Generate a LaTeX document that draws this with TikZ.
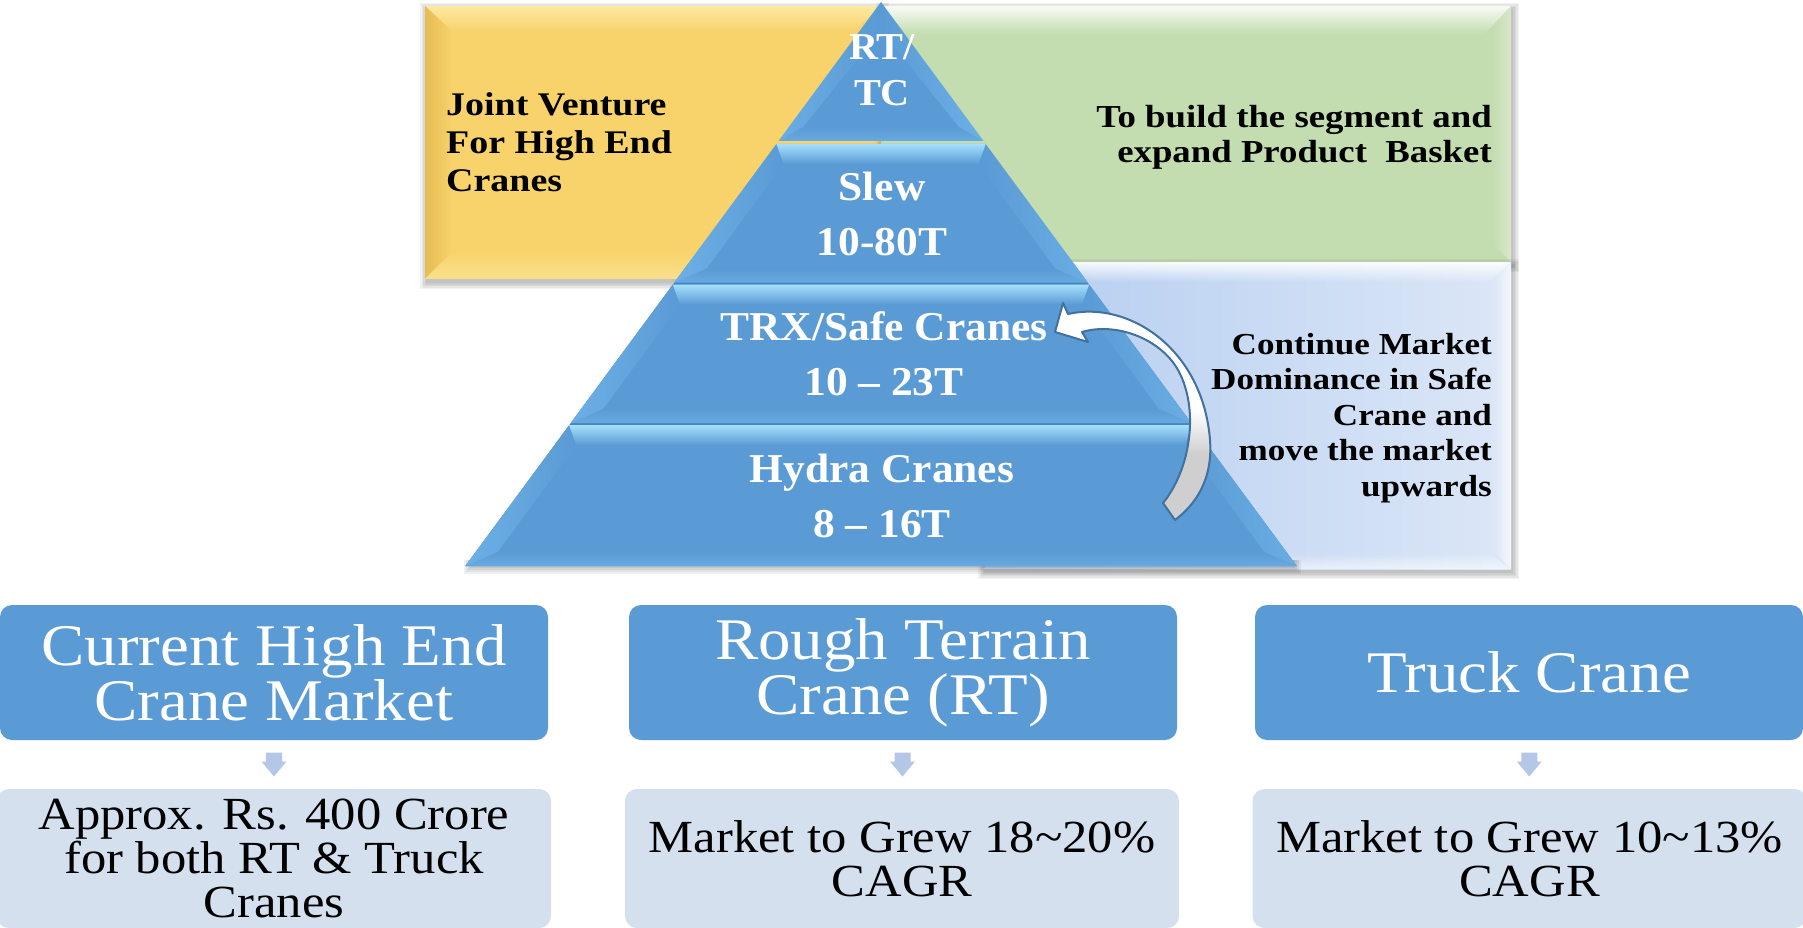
\documentclass[tikz,border=0pt]{standalone}
\usepackage{fontspec}
\setmainfont{Liberation Serif}
\newfontfamily\tierfont[FakeStretch=1.06]{Liberation Serif}
\newfontfamily\notefont[FakeStretch=1.15]{Liberation Serif}
\newfontfamily\boxfont[FakeStretch=1.1]{Liberation Serif}
\usetikzlibrary{calc,fadings}

\definecolor{accent}{HTML}{5B9BD5}
\definecolor{accentdeep}{HTML}{4A84BC}
\definecolor{tierlight}{HTML}{A6E0FD}
\definecolor{tieredge}{HTML}{74B9EE}
\definecolor{gold}{HTML}{F8D36B}
\definecolor{goldlight}{HTML}{FDE9A4}
\definecolor{golddark}{HTML}{E2B84F}
\definecolor{sage}{HTML}{C3DDB0}
\definecolor{skyleft}{HTML}{B3CCF0}
\definecolor{skyright}{HTML}{DCE7F7}
\definecolor{paleblue}{HTML}{D5E0EF}
\definecolor{arrowblue}{HTML}{B4C7E7}
\definecolor{curvegray}{HTML}{CFCFCF}
\definecolor{curveline}{HTML}{41719C}

\tikzfading[name=fadetop, top color=transparent!0, bottom color=transparent!100]
\tikzfading[name=fadebottom, top color=transparent!100, bottom color=transparent!0]
\tikzfading[name=fadeleft, left color=transparent!0, right color=transparent!100]
\tikzfading[name=faderight, left color=transparent!100, right color=transparent!0]

\pgfdeclareverticalshading{curveshade}{100bp}{color(0bp)=(curvegray); color(40bp)=(curvegray); color(50bp)=(white); color(100bp)=(white)}

% soft shadow under a rectangle: x1 y1 x2 y2
\newcommand{\softshadow}[4]{%
  \foreach \s in {0,1.5,3,4.5,6}{%
    \fill[black, opacity=0.05] (#1+1-\s,#2+3-\s) rectangle (#3+2+\s,#4+4+\s);}}

% one bevelled slab of the pyramid: top y, bottom y
\newcommand{\tierslab}[2]{%
  \pgfmathsetmacro{\xa}{881-0.737*(#1-2)}%
  \pgfmathsetmacro{\xb}{881+0.737*(#1-2)}%
  \pgfmathsetmacro{\xc}{881+0.737*(#2-2)}%
  \pgfmathsetmacro{\xd}{881-0.737*(#2-2)}%
  \pgfmathsetmacro{\ya}{#1+20}%
  \pgfmathsetmacro{\yd}{#2-14}%
  \pgfmathsetmacro{\xai}{881-0.737*(\ya-2)+22}%
  \pgfmathsetmacro{\xbi}{881+0.737*(\ya-2)-22}%
  \pgfmathsetmacro{\xci}{881+0.737*(\yd-2)-22}%
  \pgfmathsetmacro{\xdi}{881-0.737*(\yd-2)+22}%
  \fill[accent] (\xa,#1) -- (\xb,#1) -- (\xc,#2) -- (\xd,#2) -- cycle;
  \fill[tierlight, path fading=fadetop] (\xa,#1) -- (\xb,#1) -- (\xbi,\ya) -- (\xai,\ya) -- cycle;
  \fill[tieredge, opacity=0.7, path fading=fadeleft] (\xa,#1) -- (\xai,\ya) -- (\xdi,\yd) -- (\xd,#2) -- cycle;
  \fill[tieredge, opacity=0.6, path fading=faderight] (\xb,#1) -- (\xc,#2) -- (\xci,\yd) -- (\xbi,\ya) -- cycle;
  \fill[tieredge, opacity=0.5, path fading=fadebottom] (\xdi,\yd) -- (\xci,\yd) -- (\xc,#2) -- (\xd,#2) -- cycle;
}

% small block arrow between two stacked boxes
\newcommand{\stepdown}[2]{%
  \fill[stepfill] ($(#1.south)!0.5!(#2.north)+(-8,-12)$) -- ++(16,0) -- ++(0,9)
    -- ++(4.5,0) -- ++(-12.5,15) -- ++(-12.5,-15) -- ++(4.5,0) -- cycle;}

\begin{document}
\begin{tikzpicture}[x=1pt,y=-1pt,
  stepfill/.style={fill=arrowblue},
  tiertext/.style={text=white, align=center, inner sep=0pt,
    font=\tierfont\bfseries\fontsize{41}{55}\selectfont},
  notetext/.style={text=black, inner sep=0pt},
  headbox/.style={rounded corners=12pt, fill=accent, text=white, align=center,
    minimum width=548pt, minimum height=135pt, inner sep=0pt,
    font=\boxfont\fontsize{59}{55}\selectfont},
  factbox/.style={rounded corners=12pt, fill=paleblue, text=black, align=center,
    minimum width=554pt, minimum height=139pt, inner sep=0pt,
    font=\boxfont\fontsize{46}{44}\selectfont},
]
\useasboundingbox (0,0) rectangle (1803,928);
\clip (0,0) rectangle (1803,928);
\fill[white] (0,0) rectangle (1803,928);

% ---- yellow panel
\softshadow{425}{6}{881}{279}
\fill[gold] (425,6) rectangle (881,279);
\fill[goldlight, path fading=fadetop] (425,6) -- (881,6) -- (853,32) -- (453,32) -- cycle;
\fill[golddark, opacity=0.8, path fading=fadeleft] (425,6) -- (453,32) -- (453,251) -- (425,279) -- cycle;
\fill[goldlight, opacity=0.6, path fading=fadebottom] (425,279) -- (453,251) -- (853,251) -- (881,279) -- cycle;

% ---- green panel
\softshadow{881}{6}{1511}{262}
\fill[sage] (881,6) rectangle (1511,262);
\fill[white, opacity=0.9, path fading=fadetop] (881,6) -- (1511,6) -- (1485,34) -- (907,34) -- cycle;
\fill[white, opacity=0.35, path fading=faderight] (1511,6) -- (1511,262) -- (1493,244) -- (1493,24) -- cycle;

% ---- light blue panel
\softshadow{983}{262}{1511}{569}
\shade[left color=skyleft, right color=skyright] (983,262) rectangle (1511,569);
\fill[white, opacity=0.9, path fading=fadetop] (983,262) -- (1511,262) -- (1491,282) -- (1003,282) -- cycle;
\fill[white, opacity=0.7, path fading=faderight] (1511,262) -- (1511,569) -- (1493,551) -- (1493,280) -- cycle;
\fill[white, opacity=0.6, path fading=fadebottom] (983,569) -- (1003,553) -- (1491,553) -- (1511,569) -- cycle;

% ---- pyramid
\foreach \s in {0,2,4,6}{%
  \fill[black, opacity=0.06] (470-\s,560) -- (1295+\s,560) -- (1295+\s,568+\s) -- (470-\s,568+\s) -- cycle;}
% darker silhouette seen through the joints of the lower slabs
\fill[accentdeep] (689.6,262) -- (1072.4,262) -- (1296.7,566) -- (465.3,566) -- cycle;
\fill[accent] (881,2) -- (983.4,141) -- (778.6,141) -- cycle;
\fill[tieredge, opacity=0.6, path fading=fadeleft] (881,2) -- (778.6,141) -- (803,127) -- (881,30) -- cycle;
\fill[tieredge, opacity=0.7, path fading=faderight] (881,2) -- (983.4,141) -- (959,127) -- (881,30) -- cycle;
\fill[tieredge, opacity=0.5, path fading=fadebottom] (803,127) -- (959,127) -- (983.4,141) -- (778.6,141) -- cycle;
\tierslab{144}{282.5}
\tierslab{284.5}{423}
\tierslab{425}{566}

% ---- pyramid labels
\node[tiertext, font=\tierfont\bfseries\fontsize{38}{46}\selectfont] (rttc) at (882,70) {RT/\\TC};
\node[tiertext] (slew) at (882,213.5) {Slew\\10-80T};
\node[tiertext] (trx) at (884,353.5) {TRX/Safe Cranes\\10 – 23T};
\node[tiertext] (hydra) at (882,495.5) {Hydra Cranes\\8 – 16T};

% ---- panel notes
\node[notetext, anchor=west, align=left, font=\notefont\bfseries\fontsize{33}{38}\selectfont]
  (jv) at (446,142.6) {Joint Venture\\For High End\\Cranes};
\node[notetext, anchor=east, align=right, font=\notefont\bfseries\fontsize{32}{35}\selectfont]
  (build) at (1492,137.2) {To build the segment and\\expand Product\ \ Basket};
\node[notetext, anchor=east, align=right, font=\notefont\bfseries\fontsize{30.5}{35.5}\selectfont]
  (dominance) at (1492,418) {Continue Market\\Dominance in Safe\\Crane and\\move the market\\upwards};

% ---- curved arrow from the bottom slab up to TRX/Safe Cranes
\coordinate (tip) at (1055,332);
\shade[shading=curveshade, draw=curveline, line width=2pt, line join=round]
  (tip) -- (1063,303) -- (1068,314)
  .. controls (1130,300) and (1203,350) .. (1210,440)
  .. controls (1213,480) and (1195,505) .. (1175,520)
  -- (1163,503)
  .. controls (1190,470) and (1200,410) .. (1178,370)
  .. controls (1160,338) and (1115,322) .. (1082,332)
  -- (1088,342) -- cycle;

% ---- market boxes
\node[headbox] (hd1) at (274,672.5) {Current High End\\Crane Market};
\node[headbox] (hd2) at (903,672.5) {Rough Terrain\\Crane (RT)};
\node[headbox] (hd3) at (1529,672.5) {Truck Crane};
\node[factbox] (ft1) at (274,858.5) {Approx. Rs. 400 Crore\\for both RT \& Truck\\Cranes};
\node[factbox] (ft2) at (902,858.5) {Market to Grew 18\textasciitilde20\%\\CAGR};
\node[factbox] (ft3) at (1529.5,858.5) {Market to Grew 10\textasciitilde13\%\\CAGR};
\stepdown{hd1}{ft1}
\stepdown{hd2}{ft2}
\stepdown{hd3}{ft3}
\end{tikzpicture}
\end{document}
